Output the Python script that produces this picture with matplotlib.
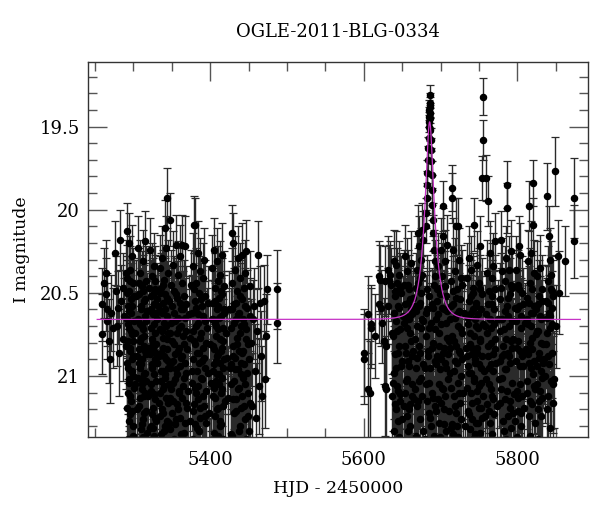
import numpy as np
import matplotlib
matplotlib.use("Agg")
import matplotlib.pyplot as plt
from matplotlib.ticker import MultipleLocator

# ---------------- data ----------------
title = "OGLE-2011-BLG-0334"
xlabel = "HJD - 2450000"
ylabel = "I magnitude"
xticks_major = [5400, 5600, 5800]
yticks_major = [19.5, 20, 20.5, 21]
ytick_labels = ["19.5", "20", "20.5", "21"]

# 2010 season
hjd_s1 = [5259.5, 5259.8, 5262.0, 5263.8, 5264.7, 5265.2, 5266.0, 5268.5, 5270.0, 5271.0, 5273.0, 5276.8, 5277.5, 5278.5, 5279.5, 5281.0, 5283.0, 5284.0, 5286.0, 5286.5, 5288.0, 5290.0,
          5291.2, 5291.5, 5292.0, 5292.3, 5292.8, 5293.1, 5293.5, 5294.0, 5294.2, 5294.6, 5295.0, 5295.3, 5295.9, 5296.2, 5296.7, 5297.0, 5297.4, 5297.9, 5298.3, 5298.6, 5299.1, 5299.5, 5300.0, 5300.4, 5300.8,
          5306.5, 5306.9, 5307.4, 5307.8, 5308.3, 5308.7, 5309.2, 5309.6, 5309.9, 5310.4, 5310.8, 5311.3, 5311.7, 5312.2, 5312.6, 5313.1, 5313.5, 5314.0, 5314.4, 5314.9, 5315.3, 5315.7, 5316.2, 5316.6, 5317.1, 5317.5,
          5322.3, 5322.7, 5323.0, 5323.5, 5323.9, 5324.4, 5324.8, 5325.2, 5325.7, 5326.1, 5326.6, 5327.0, 5327.5, 5327.9, 5328.4, 5328.8, 5329.3, 5329.7, 5330.2, 5330.7,
          5334.0, 5334.5, 5335.0, 5335.4, 5335.9, 5336.4, 5336.8, 5337.3, 5337.7, 5338.2, 5338.7, 5339.1, 5339.6, 5340.0, 5340.5, 5341.0, 5341.4, 5341.9, 5342.3, 5342.8, 5343.3, 5343.6, 5344.2, 5344.7, 5345.1, 5345.6, 5346.1, 5346.6,
          5347.3, 5347.7, 5348.4, 5349.0, 5349.6, 5350.3, 5350.9, 5351.5, 5352.2, 5352.8, 5353.4, 5354.1, 5354.7, 5355.3, 5356.0, 5356.6, 5357.2, 5357.9, 5358.5, 5359.1, 5359.8, 5360.4, 5361.0, 5361.7, 5362.3, 5362.9, 5363.6, 5364.2, 5364.8, 5365.5, 5366.1, 5366.7, 5367.4, 5368.0, 5368.6, 5369.3,
          5376.2, 5376.8, 5377.4, 5378.0, 5378.6, 5379.2, 5379.7, 5380.3, 5380.6, 5381.2, 5381.8, 5382.4, 5383.0, 5383.6, 5384.2, 5384.8, 5385.5, 5386.1, 5386.8, 5387.4, 5388.1, 5388.8, 5389.5, 5390.2, 5390.9, 5391.6, 5392.4, 5393.1, 5393.8, 5394.6,
          5402.8, 5403.3, 5403.9, 5404.3, 5404.9, 5405.4, 5405.8, 5406.4, 5406.9, 5407.3, 5407.9, 5408.4, 5408.8, 5409.4, 5409.9, 5410.3, 5410.8, 5411.4, 5411.9, 5412.3, 5412.9, 5413.4, 5413.8, 5414.4, 5414.9, 5415.3, 5415.8, 5416.4, 5416.9, 5417.3, 5417.9, 5418.6, 5419.7, 5421.2,
          5427.2, 5427.8, 5428.5, 5429.0, 5429.6, 5430.3, 5430.9, 5431.6, 5432.2, 5432.9, 5433.5, 5434.2, 5434.8, 5435.5, 5436.1, 5436.8, 5437.4, 5438.1, 5438.7, 5439.4, 5440.0, 5440.7, 5441.3, 5442.0, 5442.6, 5443.3, 5443.9, 5444.6, 5445.3, 5446.0, 5446.7, 5447.3, 5448.2, 5449.2, 5450.3, 5451.4, 5452.5,
          5457.0, 5458.0, 5460.5, 5462.8, 5463.5, 5464.8, 5468.0, 5470.0, 5471.0, 5473.0, 5473.6, 5486.6, 5487.5]
mag_s1 = [20.57, 20.75, 20.44, 20.38, 20.51, 20.67, 20.60, 20.79, 20.90, 20.62, 20.71, 20.26, 20.49, 20.70, 20.59, 20.86, 20.18, 20.55, 20.47, 20.78, 20.64, 20.38,
          20.13, 20.66, 20.92, 20.41, 21.10, 20.58, 20.79, 20.20, 21.02, 20.49, 20.71, 21.23, 20.36, 20.85, 20.62, 21.15, 20.54, 20.97, 20.28, 20.75, 21.30, 20.44, 20.88, 20.67, 21.07,
          20.23, 20.84, 20.51, 21.18, 20.69, 20.95, 20.38, 21.32, 20.60, 20.77, 21.05, 20.46, 20.90, 20.31, 21.26, 20.72, 20.55, 21.12, 20.82, 20.19, 20.98, 20.64, 21.21, 20.43, 20.87, 21.34,
          20.24, 20.71, 21.09, 20.52, 20.93, 21.23, 20.40, 20.80, 20.63, 21.31, 20.57, 20.99, 20.34, 20.74, 21.14, 20.48, 20.86, 21.27, 20.66, 20.92,
          20.88, 20.35, 21.24, 20.61, 20.97, 20.47, 21.20, 20.73, 20.29, 21.08, 20.56, 20.83, 21.33, 20.42, 20.68, 21.01, 20.51, 20.11, 20.90, 20.23, 20.64, 19.93, 20.78, 21.16, 20.38, 20.95, 20.55, 21.28,
          20.06, 20.74, 21.13, 20.45, 20.92, 21.22, 20.58, 20.33, 21.04, 20.81, 20.49, 21.29, 20.67, 20.21, 20.96, 21.17, 20.53, 20.85, 20.39, 21.10, 20.71, 20.28, 21.25, 20.60, 20.89, 20.44, 20.21, 21.06, 20.76, 20.52, 21.34, 20.65, 20.22, 20.98, 20.57, 21.19,
          20.62, 20.97, 20.34, 21.21, 20.79, 20.09, 20.55, 21.07, 20.09, 20.70, 20.44, 21.31, 20.86, 20.26, 20.63, 21.14, 20.50, 20.92, 20.37, 21.25, 20.74, 20.58, 21.02, 20.41, 20.83, 21.18, 20.30, 20.67, 20.95, 21.28,
          20.35, 20.82, 21.12, 20.56, 20.24, 20.93, 20.68, 21.24, 20.47, 20.76, 21.03, 20.31, 20.88, 20.60, 21.19, 20.43, 20.72, 20.99, 20.53, 21.30, 20.39, 21.27, 20.64, 20.85, 20.27, 21.08, 20.51, 20.79, 20.95, 21.18, 20.62, 20.46, 21.15, 20.74,
          20.71, 21.05, 20.14, 20.44, 20.20, 20.88, 21.22, 20.57, 20.36, 20.96, 20.66, 21.14, 20.49, 20.81, 21.08, 20.29, 20.62, 21.33, 20.74, 20.41, 20.92, 21.19, 20.54, 20.27, 20.85, 21.01, 20.47, 20.69, 21.26, 20.38, 20.78, 20.25, 20.59, 21.10, 20.90, 20.46, 21.16,
          20.58, 20.97, 20.73, 20.27, 21.06, 20.56, 21.12, 20.55, 21.02, 20.76, 20.48, 20.48, 20.68]
err_s1 = [0.22, 0.24, 0.21, 0.20, 0.22, 0.23, 0.22, 0.25, 0.26, 0.23, 0.24, 0.19, 0.21, 0.24, 0.22, 0.26, 0.18, 0.22, 0.21, 0.25, 0.23, 0.20,
          0.17, 0.23, 0.27, 0.20, 0.30, 0.22, 0.25, 0.18, 0.28, 0.21, 0.24, 0.32, 0.20, 0.26, 0.23, 0.31, 0.22, 0.28, 0.19, 0.25, 0.34, 0.21, 0.26, 0.23, 0.29,
          0.19, 0.26, 0.22, 0.31, 0.24, 0.28, 0.20, 0.34, 0.23, 0.25, 0.29, 0.21, 0.27, 0.19, 0.33, 0.24, 0.22, 0.30, 0.26, 0.18, 0.28, 0.23, 0.32, 0.21, 0.26, 0.35,
          0.19, 0.24, 0.29, 0.22, 0.27, 0.32, 0.20, 0.26, 0.23, 0.34, 0.22, 0.28, 0.20, 0.25, 0.30, 0.21, 0.26, 0.33, 0.23, 0.27,
          0.27, 0.20, 0.32, 0.23, 0.28, 0.21, 0.31, 0.25, 0.19, 0.29, 0.22, 0.26, 0.34, 0.21, 0.24, 0.28, 0.22, 0.17, 0.27, 0.19, 0.23, 0.18, 0.25, 0.31, 0.20, 0.28, 0.22, 0.33,
          0.16, 0.25, 0.30, 0.21, 0.27, 0.32, 0.23, 0.20, 0.29, 0.26, 0.21, 0.33, 0.24, 0.18, 0.28, 0.31, 0.22, 0.26, 0.20, 0.30, 0.25, 0.19, 0.32, 0.23, 0.27, 0.21, 0.18, 0.29, 0.25, 0.22, 0.35, 0.24, 0.18, 0.28, 0.23, 0.31,
          0.23, 0.28, 0.20, 0.32, 0.25, 0.17, 0.22, 0.29, 0.16, 0.24, 0.21, 0.34, 0.26, 0.19, 0.23, 0.30, 0.22, 0.27, 0.20, 0.33, 0.25, 0.22, 0.29, 0.21, 0.26, 0.31, 0.19, 0.24, 0.28, 0.33,
          0.20, 0.26, 0.30, 0.22, 0.19, 0.28, 0.24, 0.32, 0.21, 0.25, 0.29, 0.20, 0.27, 0.23, 0.31, 0.21, 0.24, 0.28, 0.22, 0.34, 0.20, 0.33, 0.23, 0.26, 0.19, 0.29, 0.22, 0.25, 0.28, 0.31, 0.23, 0.21, 0.30, 0.25,
          0.24, 0.29, 0.17, 0.21, 0.18, 0.27, 0.32, 0.22, 0.20, 0.28, 0.24, 0.30, 0.21, 0.26, 0.29, 0.19, 0.23, 0.34, 0.25, 0.21, 0.27, 0.31, 0.22, 0.19, 0.26, 0.28, 0.21, 0.24, 0.33, 0.20, 0.25, 0.19, 0.23, 0.30, 0.27, 0.21, 0.31,
          0.23, 0.28, 0.25, 0.20, 0.29, 0.22, 0.30, 0.22, 0.29, 0.25, 0.21, 0.24, 0.24]

# 2010 season, further points inside the dense nightly groups
hjd_s1x = [5291.0, 5291.7, 5292.1, 5292.6, 5293.0, 5293.3, 5293.8, 5294.4, 5294.8, 5295.2, 5295.6, 5296.0, 5296.4, 5296.9, 5297.2, 5297.7, 5298.1, 5298.5, 5298.9, 5299.3, 5299.8, 5300.2, 5300.6,
           5306.3, 5306.7, 5307.1, 5307.6, 5308.0, 5308.5, 5308.9, 5309.4, 5309.7, 5310.1, 5310.6, 5311.0, 5311.5, 5311.9, 5312.4, 5312.8, 5313.3, 5313.7, 5314.2, 5314.6, 5315.1, 5315.5, 5316.0, 5316.4, 5316.8, 5317.3,
           5322.1, 5322.5, 5322.9, 5323.3, 5323.7, 5324.1, 5324.6, 5325.0, 5325.5, 5325.9, 5326.4, 5326.8, 5327.2, 5327.7, 5328.1, 5328.6, 5329.0, 5329.5, 5329.9, 5330.4, 5330.9,
           5334.2, 5334.8, 5335.2, 5335.7, 5336.1, 5336.6, 5337.0, 5337.5, 5338.0, 5338.4, 5338.9, 5339.3, 5339.8, 5340.3, 5340.7, 5341.2, 5341.7, 5342.1, 5342.6, 5343.0, 5343.5, 5344.0, 5344.4, 5344.9, 5345.4, 5345.8, 5346.3,
           5347.5, 5348.1, 5348.7, 5349.3, 5349.9, 5350.6, 5351.2, 5351.8, 5352.5, 5353.1, 5353.7, 5354.4, 5355.0, 5355.7, 5356.3, 5356.9, 5357.5, 5358.2, 5358.8, 5359.5, 5360.1, 5360.7, 5361.4, 5362.0, 5362.6, 5363.3, 5363.9, 5364.5, 5365.2, 5365.8, 5366.4, 5367.1, 5367.7, 5368.3, 5369.0,
           5376.5, 5377.1, 5377.7, 5378.3, 5378.9, 5379.5, 5380.0, 5380.9, 5381.5, 5382.1, 5382.7, 5383.3, 5383.9, 5384.5, 5385.2, 5385.8, 5386.4, 5387.1, 5387.8, 5388.4, 5389.1, 5389.8, 5390.5, 5391.2, 5392.0, 5392.7, 5393.5, 5394.2, 5395.0, 5396.0,
           5403.1, 5403.6, 5404.1, 5404.6, 5405.2, 5405.6, 5406.2, 5406.7, 5407.1, 5407.6, 5408.2, 5408.6, 5409.2, 5409.7, 5410.1, 5410.6, 5411.2, 5411.7, 5412.1, 5412.7, 5413.2, 5413.6, 5414.2, 5414.7, 5415.1, 5415.6, 5416.2, 5416.7, 5417.6, 5418.3,
           5427.5, 5428.1, 5428.8, 5429.3, 5429.9, 5430.6, 5431.2, 5431.9, 5432.5, 5433.2, 5433.8, 5434.5, 5435.1, 5435.8, 5436.4, 5437.1, 5437.7, 5438.4, 5439.0, 5439.7, 5440.3, 5441.0, 5441.6, 5442.3, 5442.9, 5443.6, 5444.2, 5444.9, 5445.6, 5446.3, 5447.0, 5447.8, 5448.7, 5449.7, 5450.8, 5451.9]
mag_s1x = [20.82, 21.19, 20.50, 20.95, 21.38, 20.69, 21.04, 20.61, 21.27, 20.83, 20.43, 21.12, 20.97, 21.42, 20.73, 21.21, 20.90, 21.45, 20.58, 21.00, 21.36, 20.79, 20.52,
           21.01, 20.66, 21.40, 20.92, 20.44, 21.13, 20.79, 21.02, 21.44, 20.58, 20.93, 21.29, 20.70, 21.08, 20.49, 21.37, 20.99, 20.76, 21.22, 20.54, 21.10, 20.85, 20.67, 21.43, 21.03, 20.61,
           20.87, 21.30, 20.60, 21.05, 20.78, 21.42, 20.95, 20.51, 21.19, 20.84, 21.36, 20.69, 21.11, 20.90, 20.43, 21.25, 20.62, 21.03, 20.81, 21.40, 20.54,
           21.10, 20.72, 20.50, 21.35, 20.86, 21.03, 20.62, 21.41, 20.97, 20.77, 21.22, 20.45, 21.06, 20.88, 21.30, 20.60, 20.99, 21.44, 20.70, 21.13, 20.84, 20.53, 21.27, 20.91, 21.39, 20.74, 21.05,
           20.95, 21.32, 20.68, 21.08, 20.79, 21.43, 20.91, 21.15, 20.62, 21.38, 20.87, 21.02, 20.51, 21.26, 20.74, 21.41, 20.99, 20.65, 21.20, 20.83, 21.09, 20.56, 20.94, 21.35, 20.70, 21.13, 20.88, 21.44, 20.60, 21.01, 20.81, 21.28, 20.92, 21.16, 20.73,
           21.04, 20.73, 21.38, 20.90, 21.17, 20.48, 21.29, 20.81, 21.10, 20.59, 20.97, 21.42, 20.68, 21.06, 20.86, 21.33, 20.77, 21.19, 20.54, 21.01, 20.91, 21.40, 20.64, 21.12, 20.89, 20.52, 21.24, 20.80, 21.09, 20.71,
           20.97, 21.40, 20.66, 21.07, 20.84, 21.34, 20.55, 21.13, 20.91, 21.44, 20.70, 21.20, 20.99, 20.58, 21.36, 20.87, 21.05, 20.65, 21.41, 20.92, 20.78, 21.10, 20.49, 21.29, 20.83, 21.01, 20.71, 21.38, 20.60, 20.90,
           20.93, 21.36, 20.60, 21.14, 20.82, 21.03, 20.68, 21.42, 20.89, 20.56, 21.21, 20.77, 21.39, 20.96, 20.63, 21.07, 20.85, 20.52, 21.30, 20.99, 20.70, 21.12, 20.86, 21.44, 20.66, 21.18, 20.93, 20.58, 21.05, 21.38, 20.72, 20.98, 21.24, 20.81, 21.33, 20.64]
err_s1x = [0.26, 0.31, 0.22, 0.28, 0.36, 0.24, 0.29, 0.23, 0.33, 0.26, 0.21, 0.30, 0.28, 0.37, 0.25, 0.32, 0.27, 0.38, 0.22, 0.29, 0.35, 0.25, 0.22,
           0.29, 0.24, 0.37, 0.28, 0.21, 0.30, 0.26, 0.29, 0.38, 0.23, 0.27, 0.33, 0.25, 0.30, 0.22, 0.36, 0.28, 0.25, 0.32, 0.22, 0.30, 0.26, 0.24, 0.37, 0.29, 0.23,
           0.27, 0.34, 0.23, 0.29, 0.26, 0.37, 0.28, 0.22, 0.31, 0.26, 0.36, 0.24, 0.30, 0.27, 0.21, 0.33, 0.23, 0.29, 0.26, 0.37, 0.22,
           0.30, 0.25, 0.22, 0.35, 0.27, 0.29, 0.23, 0.37, 0.28, 0.25, 0.32, 0.21, 0.29, 0.27, 0.34, 0.23, 0.28, 0.38, 0.24, 0.30, 0.26, 0.22, 0.33, 0.27, 0.36, 0.25, 0.29,
           0.28, 0.34, 0.24, 0.30, 0.26, 0.38, 0.27, 0.31, 0.23, 0.36, 0.27, 0.29, 0.22, 0.33, 0.25, 0.37, 0.28, 0.24, 0.32, 0.26, 0.30, 0.22, 0.28, 0.35, 0.24, 0.31, 0.27, 0.38, 0.23, 0.29, 0.26, 0.33, 0.27, 0.31, 0.25,
           0.29, 0.25, 0.36, 0.27, 0.31, 0.22, 0.34, 0.26, 0.30, 0.23, 0.28, 0.38, 0.24, 0.29, 0.27, 0.35, 0.25, 0.32, 0.22, 0.29, 0.27, 0.37, 0.23, 0.30, 0.27, 0.22, 0.33, 0.26, 0.30, 0.24,
           0.28, 0.37, 0.24, 0.29, 0.26, 0.35, 0.22, 0.31, 0.27, 0.38, 0.24, 0.32, 0.28, 0.23, 0.36, 0.27, 0.29, 0.24, 0.37, 0.27, 0.25, 0.30, 0.21, 0.34, 0.26, 0.29, 0.24, 0.36, 0.23, 0.27,
           0.27, 0.36, 0.23, 0.31, 0.26, 0.29, 0.24, 0.38, 0.27, 0.22, 0.32, 0.25, 0.37, 0.28, 0.23, 0.30, 0.26, 0.22, 0.34, 0.28, 0.24, 0.31, 0.27, 0.38, 0.24, 0.32, 0.27, 0.23, 0.29, 0.36, 0.25, 0.28, 0.33, 0.26, 0.35, 0.23]

# 2010 season, scattered points between the dense groups
hjd_s1g = [5302.0, 5302.8, 5303.6, 5304.4, 5305.2, 5318.2, 5319.0, 5319.9, 5320.8, 5321.5, 5331.3, 5332.2, 5333.1,
           5370.2, 5371.1, 5372.0, 5373.2, 5374.3, 5375.2, 5396.8, 5397.7, 5398.8, 5399.9, 5401.0, 5402.0,
           5422.3, 5423.5, 5424.6, 5425.8, 5426.6, 5453.5, 5454.6, 5456.0, 5459.5, 5466.5]
mag_s1g = [20.74, 21.05, 20.52, 20.88, 21.20, 20.61, 21.12, 20.83, 20.47, 21.31, 20.92, 20.58, 21.16,
           20.84, 21.09, 20.63, 21.27, 20.77, 20.45, 20.98, 20.56, 21.22, 20.81, 21.04, 20.66,
           20.89, 21.13, 20.60, 20.95, 21.35, 20.80, 21.18, 20.66, 21.25, 20.88]
err_s1g = [0.25, 0.30, 0.22, 0.27, 0.32, 0.23, 0.31, 0.26, 0.21, 0.35, 0.27, 0.23, 0.31,
           0.26, 0.30, 0.23, 0.33, 0.25, 0.21, 0.28, 0.22, 0.32, 0.26, 0.29, 0.24,
           0.27, 0.31, 0.23, 0.28, 0.36, 0.26, 0.32, 0.24, 0.33, 0.27]

# 2011 season, outside the peak
hjd_s2 = [5600.3, 5600.6, 5605.9, 5606.2, 5608.0, 5609.0, 5610.1, 5614.6, 5619.4, 5620.3, 5621.0, 5622.1, 5623.6, 5625.8, 5627.1, 5628.0, 5628.5, 5629.5, 5631.4, 5632.0, 5632.6, 5634.5, 5635.1,
          5638.2, 5638.8, 5639.5, 5640.1, 5640.8, 5641.4, 5642.0, 5642.7, 5643.3, 5644.0, 5644.6, 5645.3, 5645.9, 5646.6, 5647.2, 5647.9, 5648.5,
          5652.0, 5652.6, 5653.3, 5653.9, 5654.6, 5655.2, 5655.9, 5656.5, 5657.2, 5657.8, 5658.5, 5659.0, 5659.7, 5660.3, 5661.0, 5661.6, 5662.3, 5662.9, 5663.6,
          5667.0, 5667.6, 5668.3, 5668.9, 5669.6, 5670.2, 5670.9, 5671.5, 5672.2, 5672.8, 5673.5, 5674.1, 5674.8, 5675.4, 5676.1, 5676.7, 5677.4,
          5680.8, 5681.7, 5682.9, 5683.8, 5684.6, 5685.3, 5686.8, 5687.7, 5688.6, 5689.5, 5690.5, 5691.3, 5692.4, 5693.6, 5694.5,
          5695.5, 5696.1, 5696.8, 5697.4, 5698.1, 5698.7, 5699.4, 5700.0, 5700.7, 5701.3, 5702.0, 5702.6, 5703.3, 5703.6, 5704.4, 5705.0, 5705.7, 5706.3, 5707.0, 5707.6, 5708.3, 5708.9, 5709.6,
          5712.0, 5712.6, 5713.0, 5713.8, 5714.4, 5715.0, 5715.4, 5716.0, 5716.6, 5717.3, 5717.9, 5718.6, 5719.2, 5719.9, 5720.5, 5721.1, 5721.8, 5722.4, 5723.1, 5723.7, 5724.4, 5725.0, 5725.7, 5726.3, 5727.0, 5727.6,
          5734.3, 5734.9, 5735.5, 5736.1, 5736.7, 5737.3, 5737.9, 5738.5, 5739.1, 5739.7, 5740.3, 5740.9, 5741.5, 5742.1, 5742.7, 5743.3, 5743.9, 5744.5, 5745.1, 5745.7, 5746.3, 5746.9, 5747.5, 5748.1, 5748.7, 5749.3, 5749.9, 5750.5, 5751.1, 5751.7, 5752.3, 5752.9, 5753.5, 5754.1, 5754.7, 5755.3, 5755.6,
          5759.1, 5759.7, 5760.3, 5761.0, 5761.3, 5761.9, 5762.6, 5763.2, 5763.8, 5764.5, 5765.1, 5765.7, 5766.4, 5767.0, 5767.6, 5768.3, 5768.9, 5769.5, 5770.2, 5770.8, 5771.4,
          5776.8, 5777.5, 5778.2, 5778.9, 5779.6, 5780.3, 5780.9,
          5783.2, 5783.9, 5784.5, 5785.2, 5785.8, 5786.4, 5786.6, 5787.0, 5787.7, 5788.3, 5789.0, 5789.6, 5790.3, 5790.9, 5791.6, 5792.2, 5792.9, 5793.5,
          5798.2, 5798.8, 5799.5, 5800.1, 5800.8, 5801.4, 5802.1, 5802.7, 5803.4, 5804.0, 5804.7, 5805.3, 5806.0, 5806.6,
          5811.8, 5812.4, 5813.1, 5813.8, 5814.4, 5814.7, 5815.4, 5816.0, 5816.7, 5817.3, 5818.0, 5818.6, 5819.3, 5819.9, 5820.3, 5821.0, 5821.6, 5822.3,
          5824.8, 5825.4, 5826.1, 5826.7, 5827.4, 5828.0, 5828.7, 5829.3, 5830.0, 5830.6, 5831.3, 5831.9, 5832.6, 5833.2,
          5836.5, 5837.2, 5838.0, 5838.7, 5839.4, 5840.1, 5841.0, 5841.6, 5842.4, 5843.1, 5843.9, 5844.2, 5844.6, 5845.3, 5846.1, 5846.8,
          5848.6, 5853.4, 5853.6, 5862.6, 5873.6, 5873.8]
mag_s2 = [20.86, 20.90, 21.08, 20.63, 21.10, 20.69, 20.71, 20.76, 20.40, 20.57, 20.42, 20.59, 20.68, 20.79, 21.06, 20.43, 20.82, 21.08, 20.36, 20.58, 20.42, 20.39, 20.45,
          20.76, 20.31, 20.98, 20.52, 21.17, 20.33, 20.67, 21.06, 20.44, 20.86, 21.27, 20.59, 20.39, 21.11, 20.72, 20.94, 20.50,
          21.18, 20.45, 20.82, 20.28, 21.03, 20.64, 20.37, 21.24, 20.56, 20.91, 21.20, 20.48, 20.74, 21.30, 20.32, 20.60, 20.88, 21.12, 20.53,
          21.08, 20.47, 20.95, 20.36, 20.70, 20.14, 21.15, 20.58, 20.22, 20.86, 20.41, 21.01, 20.30, 20.66, 20.12, 20.93, 20.18,
          20.62, 21.05, 20.48, 20.88, 21.22, 20.71, 20.95, 21.30, 20.57, 21.10, 20.80, 20.45, 21.18, 20.66, 20.93,
          20.55, 21.14, 20.34, 20.82, 21.28, 20.47, 20.96, 20.24, 20.69, 21.07, 20.40, 20.86, 20.16, 19.98, 21.20, 20.60, 20.31, 20.92, 21.33, 20.52, 20.77, 20.21, 21.02,
          20.66, 20.98, 21.31, 20.43, 21.29, 19.87, 19.93, 20.57, 20.24, 21.12, 20.79, 20.37, 20.91, 21.22, 20.10, 20.63, 20.48, 21.04, 20.10, 20.85, 20.30, 21.16, 20.54, 20.72, 21.26, 20.45,
          20.88, 20.41, 21.21, 20.65, 20.98, 20.29, 21.32, 20.74, 20.52, 21.10, 20.36, 20.83, 21.26, 20.60, 20.47, 21.03, 20.09, 20.92, 21.35, 20.56, 20.70, 21.15, 20.33, 20.86, 21.28, 20.63, 20.44, 21.06, 20.78, 20.22, 20.95, 21.19, 19.81, 20.51, 20.69, 19.32, 19.58,
          19.81, 20.63, 21.17, 20.38, 19.95, 20.82, 21.05, 20.49, 20.26, 21.28, 20.71, 20.93, 20.41, 21.12, 20.57, 20.34, 20.87, 21.23, 20.60, 20.19, 20.78,
          20.54, 20.91, 20.18, 21.08, 20.66, 20.37, 20.82,
          20.72, 21.14, 20.43, 20.96, 20.29, 19.99, 20.58, 19.85, 21.24, 20.64, 20.36, 20.88, 21.19, 20.51, 20.79, 20.25, 21.04, 20.47,
          20.67, 20.36, 21.09, 20.83, 20.45, 21.21, 20.58, 20.22, 20.94, 20.27, 20.71, 21.22, 20.50, 20.87,
          20.84, 20.53, 21.03, 20.31, 20.69, 19.98, 20.92, 20.44, 21.15, 20.62, 20.26, 20.77, 20.48, 20.99, 19.84, 20.09, 20.58, 20.38,
          20.60, 20.94, 20.40, 21.20, 20.73, 20.52, 20.86, 21.09, 20.35, 20.66, 20.97, 21.13, 20.48, 20.81,
          21.00, 20.55, 19.92, 20.74, 20.43, 20.88, 20.16, 20.62, 20.30, 20.64, 20.39, 20.48, 20.59, 20.69, 21.05, 20.52,
          19.77, 20.28, 20.50, 20.31, 19.93, 20.19]
err_s2 = [0.26, 0.27, 0.30, 0.23, 0.31, 0.24, 0.24, 0.25, 0.21, 0.23, 0.21, 0.23, 0.24, 0.26, 0.30, 0.21, 0.26, 0.30, 0.20, 0.23, 0.21, 0.20, 0.22,
          0.25, 0.19, 0.28, 0.22, 0.31, 0.20, 0.24, 0.29, 0.21, 0.26, 0.33, 0.23, 0.20, 0.30, 0.25, 0.28, 0.22,
          0.31, 0.21, 0.26, 0.19, 0.29, 0.23, 0.20, 0.32, 0.22, 0.27, 0.31, 0.21, 0.25, 0.34, 0.19, 0.23, 0.27, 0.30, 0.22,
          0.29, 0.21, 0.28, 0.20, 0.24, 0.17, 0.31, 0.22, 0.18, 0.26, 0.21, 0.29, 0.19, 0.24, 0.16, 0.27, 0.17,
          0.23, 0.29, 0.21, 0.27, 0.32, 0.25, 0.28, 0.34, 0.22, 0.30, 0.26, 0.21, 0.31, 0.24, 0.28,
          0.22, 0.31, 0.20, 0.26, 0.33, 0.21, 0.28, 0.19, 0.24, 0.29, 0.20, 0.26, 0.17, 0.15, 0.31, 0.23, 0.19, 0.27, 0.34, 0.22, 0.25, 0.18, 0.29,
          0.24, 0.28, 0.34, 0.21, 0.33, 0.14, 0.15, 0.22, 0.19, 0.30, 0.25, 0.20, 0.27, 0.32, 0.17, 0.23, 0.21, 0.29, 0.17, 0.26, 0.19, 0.31, 0.22, 0.25, 0.33, 0.21,
          0.27, 0.21, 0.32, 0.24, 0.28, 0.19, 0.34, 0.25, 0.22, 0.30, 0.20, 0.26, 0.33, 0.23, 0.21, 0.29, 0.16, 0.27, 0.35, 0.22, 0.24, 0.31, 0.20, 0.26, 0.34, 0.23, 0.21, 0.29, 0.25, 0.18, 0.28, 0.31, 0.13, 0.22, 0.24, 0.11, 0.12,
          0.14, 0.23, 0.31, 0.20, 0.15, 0.26, 0.29, 0.22, 0.19, 0.34, 0.25, 0.28, 0.21, 0.30, 0.22, 0.20, 0.27, 0.32, 0.23, 0.17, 0.25,
          0.22, 0.27, 0.17, 0.29, 0.24, 0.20, 0.26,
          0.25, 0.30, 0.21, 0.28, 0.19, 0.15, 0.22, 0.14, 0.32, 0.23, 0.20, 0.27, 0.31, 0.22, 0.25, 0.19, 0.29, 0.21,
          0.24, 0.20, 0.29, 0.26, 0.21, 0.31, 0.22, 0.18, 0.28, 0.19, 0.24, 0.32, 0.22, 0.27,
          0.26, 0.22, 0.29, 0.19, 0.24, 0.15, 0.27, 0.21, 0.30, 0.23, 0.19, 0.25, 0.21, 0.28, 0.14, 0.16, 0.22, 0.20,
          0.23, 0.28, 0.21, 0.31, 0.25, 0.22, 0.26, 0.29, 0.20, 0.24, 0.28, 0.30, 0.21, 0.26,
          0.28, 0.22, 0.20, 0.25, 0.21, 0.27, 0.18, 0.23, 0.19, 0.24, 0.20, 0.21, 0.22, 0.24, 0.29, 0.22,
          0.21, 0.22, 0.25, 0.21, 0.24, 0.22]

# 2011 season, further points inside the dense nightly groups
hjd_s2x = [5638.5, 5639.1, 5639.8, 5640.4, 5641.1, 5641.7, 5642.4, 5643.0, 5643.7, 5644.3, 5645.0, 5645.6, 5646.3, 5646.9, 5647.6, 5648.2,
           5652.3, 5652.9, 5653.6, 5654.2, 5654.9, 5655.5, 5656.2, 5656.8, 5657.5, 5658.1, 5658.8, 5659.3, 5660.0, 5660.6, 5661.3, 5661.9, 5662.6, 5663.2,
           5667.3, 5667.9, 5668.6, 5669.2, 5669.9, 5670.5, 5671.2, 5671.8, 5672.5, 5673.1, 5673.8, 5674.4, 5675.1, 5675.7, 5676.4, 5677.0, 5677.8,
           5679.3, 5680.0, 5681.0, 5682.0, 5682.6, 5683.3, 5684.2, 5685.0, 5685.6, 5686.5, 5687.3, 5688.0, 5689.0, 5689.8, 5690.8, 5691.8, 5692.8, 5693.3, 5694.0, 5694.8,
           5695.8, 5696.4, 5697.1, 5697.7, 5698.4, 5699.0, 5699.7, 5700.3, 5701.0, 5701.6, 5702.3, 5702.9, 5704.0, 5704.7, 5705.3, 5706.0, 5706.6, 5707.3, 5707.9, 5708.6, 5709.2,
           5712.3, 5712.9, 5713.5, 5714.1, 5714.7, 5715.7, 5716.3, 5716.9, 5717.6, 5718.2, 5718.9, 5719.5, 5720.2, 5720.8, 5721.4, 5722.1, 5722.7, 5723.4, 5724.0, 5724.7, 5725.3, 5726.0, 5726.6, 5727.3,
           5734.6, 5735.2, 5735.8, 5736.4, 5737.0, 5737.6, 5738.2, 5738.8, 5739.4, 5740.0, 5740.6, 5741.2, 5741.8, 5742.4, 5743.0, 5743.6, 5744.2, 5744.8, 5745.4, 5746.0, 5746.6, 5747.2, 5747.8, 5748.4, 5749.0, 5749.6, 5750.2, 5750.8, 5751.4, 5752.0, 5752.6, 5753.2, 5753.8, 5754.4, 5755.0,
           5759.4, 5760.0, 5760.6, 5761.6, 5762.2, 5762.9, 5763.5, 5764.1, 5764.8, 5765.4, 5766.0, 5766.7, 5767.3, 5767.9, 5768.6, 5769.2, 5769.8, 5770.5, 5771.1,
           5777.1, 5777.8, 5778.5, 5779.2, 5780.0, 5780.6, 5781.3,
           5783.5, 5784.2, 5784.8, 5785.5, 5786.1, 5787.3, 5788.0, 5788.6, 5789.3, 5789.9, 5790.6, 5791.2, 5791.9, 5792.5, 5793.2, 5793.8,
           5798.5, 5799.2, 5799.8, 5800.5, 5801.1, 5801.8, 5802.4, 5803.1, 5803.7, 5804.4, 5805.0, 5805.7, 5806.3, 5807.0,
           5812.1, 5812.8, 5813.4, 5814.1, 5815.1, 5815.7, 5816.4, 5817.0, 5817.7, 5818.3, 5819.0, 5819.6, 5820.7, 5821.3, 5822.0, 5822.6,
           5825.1, 5825.7, 5826.4, 5827.0, 5827.7, 5828.4, 5829.0, 5829.7, 5830.3, 5831.0, 5831.6, 5832.3, 5832.9,
           5837.6, 5838.4, 5839.0, 5839.8, 5840.5, 5841.3, 5842.0, 5842.8, 5843.5, 5845.0, 5845.7, 5846.4]
mag_s2x = [21.04, 20.62, 21.33, 20.87, 20.49, 21.20, 20.95, 21.41, 20.73, 21.09, 20.58, 21.37, 20.82, 20.47, 21.15, 21.40,
           20.68, 21.39, 20.57, 21.10, 20.86, 21.44, 20.71, 21.02, 20.45, 21.33, 20.94, 20.66, 21.17, 20.54, 21.42, 20.79, 21.05, 20.63,
           20.78, 21.36, 20.61, 21.18, 20.89, 20.44, 21.41, 20.82, 21.03, 20.56, 21.26, 20.71, 20.50, 21.12, 20.39, 21.33, 20.67,
           20.95, 21.38, 20.76, 21.15, 20.60, 21.43, 20.85, 21.04, 20.52, 21.25, 20.68, 21.41, 20.83, 21.13, 20.59, 21.36, 20.91, 20.72, 21.21, 20.48,
           20.88, 21.42, 20.63, 21.05, 20.74, 21.37, 20.51, 21.16, 20.90, 21.44, 20.59, 21.08, 20.83, 21.29, 20.46, 21.12, 20.68, 20.95, 21.39, 20.61, 20.87,
           20.83, 21.40, 20.58, 21.07, 20.76, 21.35, 20.49, 20.97, 21.44, 20.65, 21.18, 20.82, 20.53, 21.30, 20.92, 20.70, 21.37, 20.61, 21.10, 20.86, 21.42, 20.41, 21.00, 20.74,
           21.07, 20.69, 21.40, 20.94, 20.55, 21.23, 20.81, 21.44, 20.98, 20.62, 21.16, 20.87, 20.50, 21.38, 20.76, 21.01, 21.42, 20.66, 20.90, 21.28, 20.58, 21.09, 20.83, 21.45, 20.71, 21.19, 20.93, 20.48, 21.34, 20.79, 21.04, 20.60, 21.25, 20.88, 21.12,
           21.02, 20.74, 21.39, 20.88, 20.57, 21.21, 20.95, 21.43, 20.66, 21.08, 20.80, 21.35, 20.52, 21.14, 20.97, 20.69, 21.41, 20.84, 20.48,
           21.16, 20.73, 21.40, 20.47, 21.01, 20.88, 21.27,
           20.96, 20.61, 21.38, 20.78, 21.09, 20.53, 20.86, 21.42, 20.70, 21.15, 20.92, 20.45, 21.31, 20.83, 20.67, 21.22,
           20.91, 21.37, 20.60, 21.13, 20.79, 20.48, 21.42, 20.85, 21.05, 20.64, 21.30, 20.88, 21.12, 20.57,
           21.10, 20.66, 21.40, 20.87, 20.56, 21.24, 20.80, 21.36, 20.95, 20.70, 21.17, 20.84, 20.62, 21.06, 20.91, 21.28,
           21.05, 20.73, 21.38, 20.57, 21.15, 20.89, 20.64, 21.42, 20.80, 21.24, 20.55, 21.01, 20.92,
           20.81, 21.20, 20.65, 21.12, 20.56, 20.93, 21.31, 20.71, 21.03, 20.86, 20.49, 21.16]
err_s2x = [0.29, 0.23, 0.35, 0.27, 0.21, 0.32, 0.28, 0.37, 0.25, 0.30, 0.23, 0.36, 0.26, 0.21, 0.31, 0.37,
           0.24, 0.36, 0.23, 0.30, 0.27, 0.38, 0.25, 0.29, 0.21, 0.35, 0.28, 0.24, 0.31, 0.22, 0.37, 0.26, 0.29, 0.23,
           0.25, 0.36, 0.23, 0.31, 0.27, 0.21, 0.37, 0.26, 0.29, 0.22, 0.33, 0.25, 0.22, 0.30, 0.20, 0.35, 0.24,
           0.28, 0.36, 0.25, 0.31, 0.23, 0.38, 0.27, 0.29, 0.22, 0.33, 0.24, 0.37, 0.26, 0.30, 0.23, 0.36, 0.27, 0.25, 0.32, 0.21,
           0.27, 0.37, 0.23, 0.29, 0.25, 0.36, 0.22, 0.31, 0.27, 0.38, 0.23, 0.30, 0.26, 0.34, 0.21, 0.30, 0.24, 0.28, 0.36, 0.23, 0.27,
           0.26, 0.37, 0.23, 0.30, 0.25, 0.35, 0.21, 0.28, 0.38, 0.24, 0.31, 0.26, 0.22, 0.34, 0.27, 0.24, 0.36, 0.23, 0.30, 0.27, 0.37, 0.20, 0.29, 0.25,
           0.30, 0.24, 0.37, 0.28, 0.22, 0.33, 0.26, 0.38, 0.28, 0.23, 0.31, 0.27, 0.22, 0.36, 0.25, 0.29, 0.37, 0.24, 0.27, 0.34, 0.23, 0.30, 0.26, 0.39, 0.24, 0.32, 0.27, 0.21, 0.35, 0.25, 0.29, 0.23, 0.33, 0.27, 0.31,
           0.29, 0.25, 0.36, 0.27, 0.22, 0.32, 0.28, 0.38, 0.24, 0.30, 0.26, 0.35, 0.22, 0.31, 0.28, 0.24, 0.37, 0.26, 0.21,
           0.31, 0.25, 0.37, 0.21, 0.29, 0.27, 0.33,
           0.28, 0.23, 0.36, 0.25, 0.30, 0.22, 0.27, 0.38, 0.24, 0.31, 0.27, 0.21, 0.34, 0.26, 0.24, 0.32,
           0.27, 0.36, 0.23, 0.31, 0.25, 0.21, 0.38, 0.26, 0.29, 0.23, 0.34, 0.27, 0.30, 0.22,
           0.30, 0.24, 0.37, 0.27, 0.22, 0.32, 0.26, 0.36, 0.28, 0.24, 0.31, 0.26, 0.23, 0.29, 0.27, 0.34,
           0.29, 0.25, 0.36, 0.22, 0.31, 0.27, 0.24, 0.38, 0.26, 0.33, 0.22, 0.29, 0.27,
           0.26, 0.32, 0.24, 0.30, 0.22, 0.28, 0.34, 0.25, 0.29, 0.27, 0.21, 0.31]

# 2011 season, scattered points between the dense groups
hjd_s2g = [5636.5, 5637.3, 5649.3, 5650.3, 5651.2, 5664.4, 5665.3, 5666.2, 5710.4, 5711.2,
           5728.5, 5729.6, 5730.8, 5732.0, 5733.2, 5756.4, 5757.4, 5758.3, 5772.3, 5773.4, 5774.6, 5775.7,
           5782.1, 5782.7, 5794.6, 5795.7, 5796.8, 5797.5, 5808.0, 5809.1, 5810.5, 5823.3, 5823.9, 5835.3, 5847.6, 5850.0]
mag_s2g = [20.74, 21.12, 20.91, 21.26, 20.64, 20.85, 21.14, 20.58, 20.79, 21.21,
           20.90, 21.10, 20.62, 21.30, 20.83, 20.97, 21.24, 20.70, 20.92, 21.18, 20.66, 21.02,
           20.87, 21.33, 20.78, 21.11, 20.59, 21.27, 20.94, 21.19, 20.68, 21.08, 20.75, 20.90, 21.02, 20.70]
err_s2g = [0.25, 0.31, 0.27, 0.33, 0.24, 0.26, 0.31, 0.23, 0.25, 0.32,
           0.27, 0.30, 0.23, 0.34, 0.26, 0.28, 0.33, 0.25, 0.27, 0.32, 0.24, 0.29,
           0.26, 0.35, 0.25, 0.30, 0.23, 0.33, 0.27, 0.32, 0.24, 0.30, 0.25, 0.27, 0.29, 0.25]

# points on the peak of the event
hjd_peak = [5680.5, 5681.2, 5681.8, 5682.4, 5683.0, 5683.5, 5684.0, 5684.4, 5684.8, 5685.1, 5685.4, 5685.6, 5685.8, 5686.0, 5686.2, 5686.4, 5686.6, 5686.9, 5687.2, 5687.5, 5687.9, 5688.3, 5688.8, 5689.4, 5690.0, 5690.7, 5691.4, 5692.2, 5693.0]
mag_peak = [20.10, 20.02, 19.93, 19.85, 19.78, 19.70, 19.63, 19.57, 19.50, 19.44, 19.40, 19.47, 19.36, 19.42, 19.31, 19.38, 19.45, 19.52, 19.58, 19.64, 19.71, 19.79, 19.88, 19.97, 20.06, 20.14, 20.24, 20.31, 20.40]
err_peak = [0.10, 0.09, 0.09, 0.08, 0.08, 0.08, 0.07, 0.07, 0.07, 0.06, 0.06, 0.06, 0.06, 0.06, 0.06, 0.06, 0.06, 0.07, 0.07, 0.07, 0.08, 0.08, 0.09, 0.09, 0.10, 0.11, 0.12, 0.13, 0.14]

# point-lens (Paczynski) model parameters of the fitted curve
model_t0 = 5685.8
model_u0 = 0.35
model_tE = 12.5
model_base = 20.66
model_range = (5253.0, 5882.0)

# ---------------- figure ----------------
plt.rcParams['font.family'] = ['DejaVu Serif']
fig = plt.figure(figsize=(6.0, 5.12), dpi=100)
ax = fig.add_axes([88 / 600, 1 - 437 / 512, 500 / 600, 375 / 512])

ebkw = dict(fmt='o', color='black', ms=4.4, mec='black', mfc='black',
            ecolor='#2a2a2a', elinewidth=1.0, capsize=2.6, capthick=0.9, zorder=2)
for t, m, e in [(hjd_s1, mag_s1, err_s1), (hjd_s1x, mag_s1x, err_s1x), (hjd_s1g, mag_s1g, err_s1g),
                (hjd_s2, mag_s2, err_s2), (hjd_s2x, mag_s2x, err_s2x), (hjd_s2g, mag_s2g, err_s2g),
                (hjd_peak, mag_peak, err_peak)]:
    ax.errorbar(t, m, yerr=e, **ebkw)

tm = np.linspace(model_range[0], model_range[1], 4000)
u = np.sqrt(model_u0 ** 2 + ((tm - model_t0) / model_tE) ** 2)
A = (u ** 2 + 2) / (u * np.sqrt(u ** 2 + 4))
ax.plot(tm, model_base - 2.5 * np.log10(A), color='#c633c6', lw=0.9, zorder=5)

ax.set_xlim(5241, 5892)
ax.set_ylim(21.367, 19.112)

ax.xaxis.set_minor_locator(MultipleLocator(50))
ax.set_xticks(xticks_major)
ax.set_yticks(yticks_major)
ax.set_yticklabels(ytick_labels)
ax.yaxis.set_minor_locator(MultipleLocator(0.1))
ax.tick_params(which='both', direction='in', top=True, right=True, color='#555555', width=1.0,
               labelsize=13, labelcolor='black')
ax.tick_params(which='major', length=14)
ax.tick_params(which='minor', length=6.5)
ax.tick_params(axis='x', pad=10)
ax.tick_params(axis='y', pad=6)
for s in ax.spines.values():
    s.set_color('#333333')
    s.set_linewidth(1.0)

ax.set_xlabel(xlabel, fontsize=12.5, labelpad=8)
ax.set_ylabel(ylabel, fontsize=12.5, labelpad=7)
ax.set_title(title, fontsize=13, pad=18)

fig.savefig("out.png", dpi=100)
